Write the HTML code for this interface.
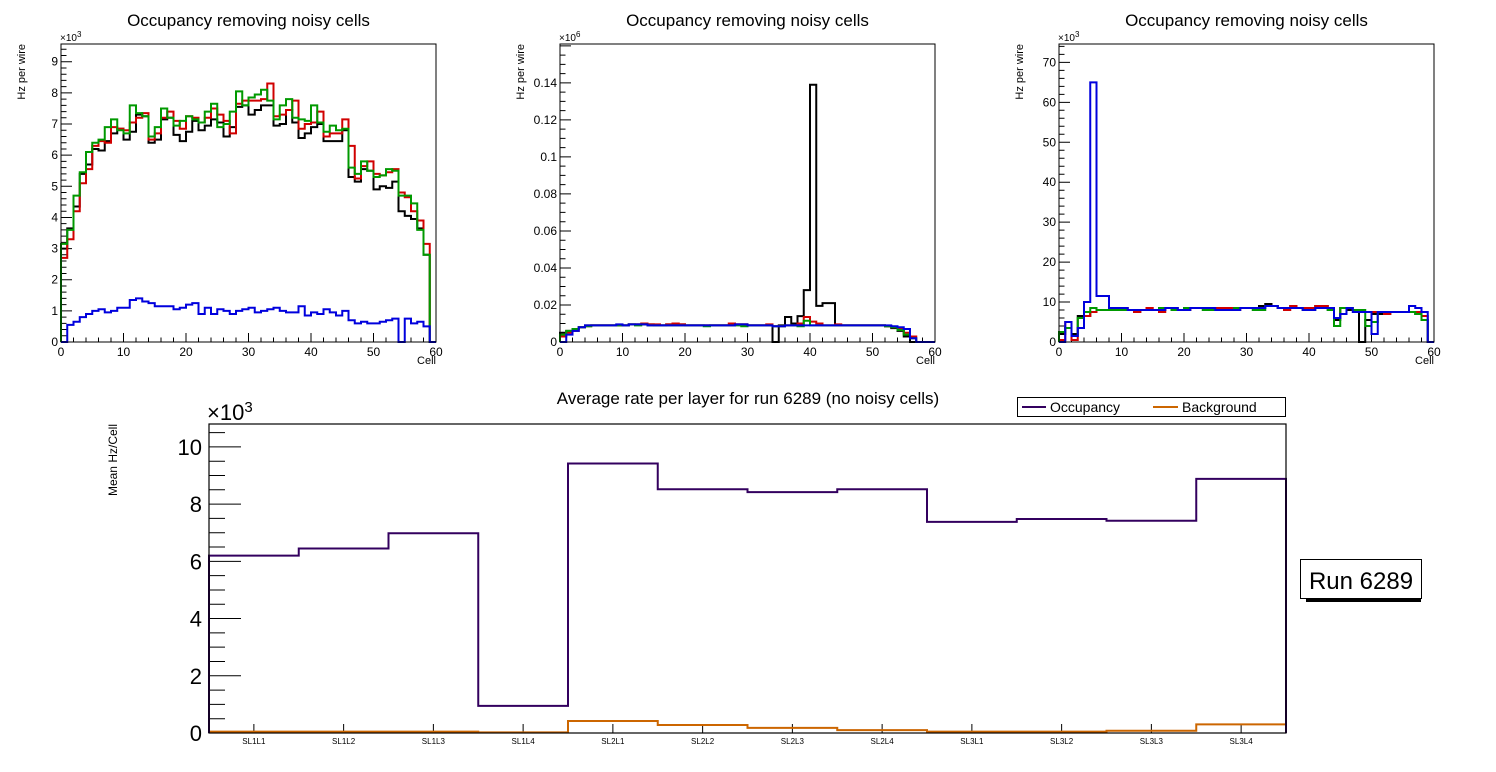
<!DOCTYPE html>
<html><head><meta charset="utf-8"><style>
body{margin:0;background:#fff;}
svg{display:block;font-family:"Liberation Sans",sans-serif;}
</style></head><body>
<svg id="c" width="1496" height="772" viewBox="0 0 1496 772"></svg>
<script>
// ---- Panel 1 data (x10^3 Hz per wire) ----
const p1Black=[3.0,3.65,4.35,5.4,5.7,6.2,6.15,6.45,6.7,6.85,6.5,6.75,7.3,7.25,6.4,6.5,7.15,7.2,6.65,6.45,6.75,7.1,6.8,6.95,7.15,7.05,6.6,6.9,7.55,7.6,7.3,7.45,7.6,7.6,6.95,7.0,7.45,7.05,6.55,6.7,6.9,7.0,6.45,6.45,6.45,6.8,5.3,5.15,5.55,5.5,4.9,5.0,4.95,5.15,4.2,4.05,3.95,3.65,2.8,0];
const p1Red=[2.7,3.3,4.2,5.1,5.55,6.3,6.45,6.4,6.9,6.85,6.8,7.05,7.2,7.35,6.5,6.7,7.2,7.4,7.1,6.85,7.25,7.2,7.05,7.2,7.5,7.3,7.1,6.7,7.65,7.75,7.75,7.75,7.8,8.3,7.25,7.3,7.45,7.75,6.85,7.0,7.05,7.4,6.6,6.7,6.7,7.15,6.3,5.25,5.65,5.8,5.4,5.35,5.45,5.55,4.8,4.65,4.2,3.9,3.15,0];
const p1Green=[3.15,3.6,4.7,5.45,6.1,6.4,6.5,6.9,7.15,6.8,6.7,7.6,7.35,7.25,6.6,6.9,7.5,7.2,6.95,7.1,7.25,7.15,7.05,7.4,7.65,6.9,7.0,7.4,8.05,7.6,7.85,7.95,8.1,7.75,7.15,7.6,7.8,7.2,7.15,7.1,7.6,7.05,6.75,6.95,6.8,6.85,5.6,5.4,5.8,5.5,5.3,5.35,5.55,5.5,4.7,4.7,4.45,3.6,2.8,0];
const p1Blue=[0,0.55,0.65,0.8,0.9,1.0,1.05,0.95,1.0,1.1,1.1,1.35,1.4,1.3,1.25,1.15,1.15,1.15,1.05,1.1,1.2,1.25,0.9,1.1,0.9,1.05,1.0,0.9,1.0,1.05,1.1,0.95,1.0,1.05,1.1,1.0,0.95,0.95,1.15,0.85,0.95,0.9,1.05,0.95,0.85,1.0,0.7,0.6,0.65,0.6,0.6,0.65,0.7,0.75,0,0.75,0.6,0.65,0.5,0];
// ---- Panel 2 data (x10^3 Hz; axis shown in 10^6) ----
const p2Black=[5,6,7,8,9,9,9,9,9,9,9,9.5,9.5,9.5,9.5,9,9,9.5,9.5,9.5,9,9,9,9,9,9,9,9,9.5,9.5,9,9,9,9,0,9,13.5,10,14,28,139,19.5,21,21,9,9,9,9,9,9,9,9,8.5,7.5,6,3,0,0,0,0];
const p2Red=[3,5,6,8,8.5,9,9,9,9,9,9,9.5,9.5,10,9.5,9.5,9,9.5,10,9.5,9,9,9,9,9,9,9,10,9.5,9.5,9,9,9,9.5,8.5,8.5,9,9,10,13.5,11,10,9,9,9.5,9,9,9,9,9,9,9,8.5,8,7,5,3,0,0,0];
const p2Green=[4,6,7,8,8.5,9,9,9,9,9,9,9.5,9,9.5,9,9,9,9,9,9,9,9,9,8.5,9,9,9,9,9,8.5,9,9,9,9,8.5,8.5,9,9,8.5,11.5,9,9,9,9,9,9,9,9,9,9,9,9,8.5,8,6.5,4,2,0,0,0];
const p2Blue=[0,4,6,8,9,9,9,9,9,9.5,9,9.5,9.5,9.5,9,9,9,9,9,9,9,9,9,9,9,9,9,9,9.5,9.5,9,9,9,9,8.5,8.5,9,9,9,9,9,9,9,9,9,9,9,9,9,9,9,9,9,8.5,8,7,2,0,0,0];
// ---- Panel 3 data (x10^3 Hz per wire) ----
const p3Black=[2,3.5,2,6.5,6.5,7.5,8,8,8,8,8,8,7.5,8,8,8,8,8.5,8.5,8,8,8.5,8.5,8.5,8,8,8,8.5,8.5,8.5,8.5,8.5,9,9.5,9,8.5,8.5,9,8.5,8,8.5,9,9,8,5.5,8.5,8,8,0,5.5,7,7,7,7.5,7.5,7.5,7.5,7,5.5,0];
const p3Red=[0.5,5,0.5,3.5,6.5,7.5,8,8,8,8.5,8.5,8,7.5,8,8.5,8,7.5,8.5,8,8,8,8.5,8.5,8.5,8.5,8.5,8.5,8.5,8,8.5,8.5,8.5,8.5,9,9,8.5,8,9,8.5,8.5,8.5,9,9,8.5,6,8.5,8.5,8,7.5,7.5,7.5,7.5,7,7.5,7.5,7.5,7.5,7.5,6.5,0];
const p3Green=[2.5,3.5,1.5,6,7.5,8.5,8,8,8,8,8,8,8,8,8,8,8.5,8.5,8,8,8.5,8.5,8.5,8,8,8,8,8,8.5,8.5,8.5,8,8,9,9,8.5,8.5,8.5,8.5,8,8,8.5,8.5,8,4,8.5,8.5,8,8,4,5,7.5,7.5,7.5,7.5,7.5,7.5,7,5.5,0];
const p3Blue=[0,5,1.5,3.5,10,65,11.5,11.5,8.5,8.5,8.5,8,8,8,8,8,8,8.5,8.5,8,8,8.5,8.5,8.5,8.5,8,8,8,8,8.5,8.5,8.5,8.5,9,9,8.5,8.5,8.5,8.5,8,8,8.5,8.5,8.5,6,7,8.5,7.5,7.5,7.5,2,7.5,7.5,7.5,7.5,7.5,9,8.5,7.5,0];
// ---- Bottom chart data (x10^3 Hz/Cell) ----
const layers=["SL1L1","SL1L2","SL1L3","SL1L4","SL2L1","SL2L2","SL2L3","SL2L4","SL3L1","SL3L2","SL3L3","SL3L4"];
const occupancy=[6.2,6.45,6.98,0.95,9.42,8.52,8.42,8.52,7.38,7.48,7.42,8.88];
const background=[0.05,0.05,0.05,0.02,0.42,0.28,0.18,0.1,0.05,0.05,0.08,0.3];

const NS="http://www.w3.org/2000/svg";
const svg=document.getElementById('c');
function mk(tag,attrs,parent){const e=document.createElementNS(NS,tag);for(const k in attrs)e.setAttribute(k,attrs[k]);(parent||svg).appendChild(e);return e;}
function txt(s,attrs,parent){const e=mk('text',attrs,parent);e.textContent=s;return e;}

function histPath(vals,xs,ys,nx){
  let d='';
  for(let i=0;i<vals.length;i++){
    const x0=xs(i*nx/vals.length),x1=xs((i+1)*nx/vals.length),y=ys(vals[i]);
    d+=(i===0?'M'+x0+','+ys(0)+'L'+x0+','+y:'L'+x0+','+y)+'L'+x1+','+y;
  }
  d+='L'+xs(nx)+','+ys(0);
  return d;
}

function panel(cfg){
  const g=mk('g',{});
  
  
  const L=cfg.x0,R=cfg.x1,T=44,B=342;
  const xs=v=>L+(R-L)*v/60;
  const ys=v=>B-(B-T)*v/cfg.ymax;
  const t=txt('Occupancy removing noisy cells',{x:(L+R)/2,y:26,'text-anchor':'middle','font-size':17,fill:'#000'},g);
  
  
  let d='';
  for(let v=0;v<=60+1e-9;v+=2){const big=(Math.round(v)%10===0);d+='M'+xs(v)+','+B+'v'+(big?-9:-4.5);}
  for(let k=0;k*cfg.minor<=cfg.ymax+1e-9;k++){const v=k*cfg.minor;const big=(k%cfg.sub===0);d+='M'+L+','+ys(v)+'h'+(big?11:5.5);}
  mk('path',{d:d,stroke:'#000','stroke-width':1,fill:'none'},g);
  for(let v=0;v<=60;v+=10){const tl=txt(String(v),{x:xs(v),y:B+14,'text-anchor':'middle','font-size':12},g);
    }
  cfg.yt.forEach((lab,k)=>{const v=k*cfg.minor*cfg.sub;const tl=txt(lab,{x:L-3,y:ys(v)+4,'text-anchor':'end','font-size':12},g);
    });
  const ex=txt('×10',{x:L-1,y:T-3,'font-size':10},g);
  mk('tspan',{dy:-4,'font-size':8},ex).textContent=cfg.exp;
  const xl=txt('Cell',{x:R,y:364,'text-anchor':'end','font-size':11},g);
  
  const yl=txt('Hz per wire',{x:0,y:0,'text-anchor':'end','font-size':11,transform:'translate('+(L-36)+','+T+') rotate(-90)'},g);
  
  cfg.series.forEach(s=>{
    const p=mk('path',{d:histPath(s.v,xs,ys,60),stroke:s.c,'stroke-width':2,fill:'none'},g);
    
    
  });
  const fr=mk('rect',{x:L,y:T,width:R-L,height:B-T,fill:'none',stroke:'#000','stroke-width':1},g);
  
}

panel({name:'occupancy-panel-1',x0:61,x1:436,ymax:9.57,minor:0.2,sub:5,exp:'3',
  yt:['0','1','2','3','4','5','6','7','8','9'],
  series:[{v:p1Black,c:'#000',n:'series-black'},{v:p1Red,c:'#d00000',n:'series-red'},{v:p1Green,c:'#009900',n:'series-green'},{v:p1Blue,c:'#0000dd',n:'series-blue'}]});
panel({name:'occupancy-panel-2',x0:560,x1:935,ymax:161,minor:5,sub:4,exp:'6',
  yt:['0','0.02','0.04','0.06','0.08','0.1','0.12','0.14'],
  series:[{v:p2Black,c:'#000',n:'series-black'},{v:p2Red,c:'#d00000',n:'series-red'},{v:p2Green,c:'#009900',n:'series-green'},{v:p2Blue,c:'#0000dd',n:'series-blue'}]});
panel({name:'occupancy-panel-3',x0:1059,x1:1434,ymax:74.6,minor:2,sub:5,exp:'3',
  yt:['0','10','20','30','40','50','60','70'],
  series:[{v:p3Black,c:'#000',n:'series-black'},{v:p3Red,c:'#d00000',n:'series-red'},{v:p3Green,c:'#009900',n:'series-green'},{v:p3Blue,c:'#0000dd',n:'series-blue'}]});

(function(){
  const g=mk('g',{});
  
  
  const L=209,R=1286,T=424,B=733,ymax=10.8,n=layers.length;
  const xs=v=>L+(R-L)*v/n;
  const ys=v=>B-(B-T)*v/ymax;
  const t=txt('Average rate per layer for run 6289 (no noisy cells)',{x:748,y:404,'text-anchor':'middle','font-size':17},g);
  
  let d='';
  for(let k=0;k*0.5<=ymax;k++){d+='M'+L+','+ys(k*0.5)+'h'+(k%4===0?32:16);}
  for(let i=0;i<n;i++){d+='M'+xs(i+0.5)+','+B+'v-9';}
  mk('path',{d:d,stroke:'#000','stroke-width':1,fill:'none'},g);
  for(let v=0;v<=10;v+=2){const tl=txt(String(v),{x:L-7,y:ys(v)+8,'text-anchor':'end','font-size':22},g);
    }
  layers.forEach((lab,i)=>{const tl=txt(lab,{x:xs(i+0.5),y:744,'text-anchor':'middle','font-size':8},g);
    });
  const ex=txt('×10',{x:L-2,y:T-4,'font-size':22},g);
  mk('tspan',{dy:-8,'font-size':15},ex).textContent='3';
  const yl=txt('Mean Hz/Cell',{x:0,y:0,'text-anchor':'end','font-size':12,transform:'translate(117,424) rotate(-90)'},g);
  
  const pb=mk('path',{d:histPath(background,xs,ys,n),stroke:'#cc6600','stroke-width':2,fill:'none'},g);
  
  const po=mk('path',{d:histPath(occupancy,xs,ys,n),stroke:'#33005f','stroke-width':2,fill:'none'},g);
  
  const fr=mk('rect',{x:L,y:T,width:R-L,height:B-T,fill:'none',stroke:'#000','stroke-width':1.2},g);
  
  const lg=mk('g',{},g);
  
  mk('rect',{x:1017.5,y:397.5,width:268,height:19,fill:'#fff',stroke:'#000','stroke-width':1},lg);
  mk('line',{x1:1022,y1:407,x2:1046,y2:407,stroke:'#33005f','stroke-width':2},lg);
  const e1=txt('Occupancy',{x:1050,y:412,'font-size':14},lg);
  
  mk('line',{x1:1153,y1:407,x2:1178,y2:407,stroke:'#cc6600','stroke-width':2},lg);
  const e2=txt('Background',{x:1182,y:412,'font-size':14},lg);
  
  const rb=mk('g',{});
  
  mk('rect',{x:1306,y:598,width:115,height:4,fill:'#000'},rb);
  mk('rect',{x:1300.5,y:559.5,width:121,height:39,fill:'#fff',stroke:'#000','stroke-width':1},rb);
  txt('Run 6289',{x:1361,y:589,'text-anchor':'middle','font-size':24},rb);
})();
</script>
</body></html>
